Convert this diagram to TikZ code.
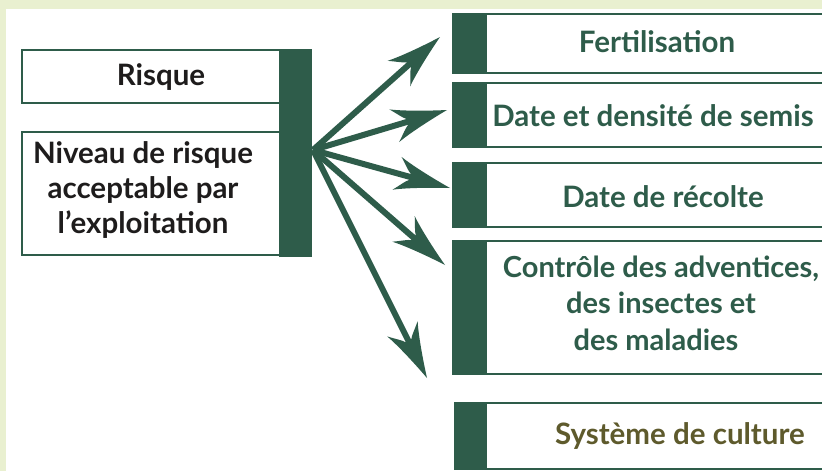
\documentclass[tikz,border=0pt]{standalone}
\usepackage{fontspec}
\setmainfont{Lato}
\usetikzlibrary{arrows.meta}
\definecolor{leaf}{HTML}{2E5C4A}
\definecolor{frame}{HTML}{E9F0D0}
\definecolor{ink}{HTML}{1E1C1C}
\definecolor{olive}{HTML}{5E5A2C}

% swept-back barbed arrow head
\pgfdeclarearrow{
  name = Barb,
  parameters = {\the\pgfarrowlength,\the\pgfarrowwidth},
  setup code = {
    \pgfarrowssettipend{0pt}
    \pgfarrowssetlineend{-.6\pgfarrowlength}
    \pgfarrowssetvisualbackend{-\pgfarrowlength}
    \pgfarrowssetbackend{-\pgfarrowlength}
    \pgfarrowshullpoint{0pt}{0pt}
    \pgfarrowshullpoint{-\pgfarrowlength}{.5\pgfarrowwidth}
    \pgfarrowshullpoint{-\pgfarrowlength}{-.5\pgfarrowwidth}
    \pgfarrowssavethe\pgfarrowlength
    \pgfarrowssavethe\pgfarrowwidth
  },
  drawing code = {
    \pgfpathmoveto{\pgfpoint{0pt}{0pt}}
    \pgfpathcurveto{\pgfpoint{-.4\pgfarrowlength}{.16\pgfarrowwidth}}
                   {\pgfpoint{-.8\pgfarrowlength}{.36\pgfarrowwidth}}
                   {\pgfpoint{-\pgfarrowlength}{.5\pgfarrowwidth}}
    \pgfpathcurveto{\pgfpoint{-.88\pgfarrowlength}{.3\pgfarrowwidth}}
                   {\pgfpoint{-.82\pgfarrowlength}{.16\pgfarrowwidth}}
                   {\pgfpoint{-.76\pgfarrowlength}{.1\pgfarrowwidth}}
    \pgfpathlineto{\pgfpoint{-.76\pgfarrowlength}{-.1\pgfarrowwidth}}
    \pgfpathcurveto{\pgfpoint{-.82\pgfarrowlength}{-.16\pgfarrowwidth}}
                   {\pgfpoint{-.88\pgfarrowlength}{-.3\pgfarrowwidth}}
                   {\pgfpoint{-\pgfarrowlength}{-.5\pgfarrowwidth}}
    \pgfpathcurveto{\pgfpoint{-.8\pgfarrowlength}{-.36\pgfarrowwidth}}
                   {\pgfpoint{-.4\pgfarrowlength}{-.16\pgfarrowwidth}}
                   {\pgfpoint{0pt}{0pt}}
    \pgfpathclose
    \pgfusepathqfill
  },
  defaults = {length=55pt, width=34pt}
}

\begin{document}
\begin{tikzpicture}[x=1pt,y=-1pt,
  box/.style={draw=leaf, line width=1.4pt, fill=white, anchor=north west,
    inner sep=0pt, outer sep=0pt},
  bar/.style={fill=leaf, anchor=north west, inner sep=0pt, outer sep=0pt},
  lbl/.style={font=\bfseries\fontsize{29.5}{35}\selectfont, align=center,
    text=leaf, anchor=base, inner sep=0pt},
  arr/.style={draw=leaf, line width=6pt, -{Barb[length=55pt,width=34pt]}}]
\useasboundingbox (0,0) rectangle (822,471);
\clip (0,0) rectangle (822,471);
% page frame
\fill[frame] (0,0) rectangle (822,471);
\fill[white] (6,9) rectangle (830,480);

% left side
\node[box, minimum width=258pt, minimum height=53pt] (risk) at (22,50) {};
\node[box, minimum width=258pt, minimum height=123pt] (level) at (22,132) {};
\node[bar, minimum width=33pt, minimum height=208pt] (hubbar) at (279,49) {};
\node[lbl, text=ink] (risktext) at (161,85) {Risque};
% base anchor of a multi-line node sits on its last line
\node[lbl, text=ink] (leveltext) at (143,233)
  {Niveau de risque\\acceptable par\\l’exploitation};

% right side
\node[box, minimum width=380pt, minimum height=59pt] (fert) at (453,14) {};
\node[bar, minimum width=34pt, minimum height=59pt] at (fert.north west) {};
\node[lbl] (ferttext) at (657,52) {Fertilisation};

\node[box, minimum width=380pt, minimum height=64pt] (sow) at (453,83) {};
\node[bar, minimum width=34pt, minimum height=64pt] at (sow.north west) {};
\node[lbl] (sowtext) at (653,126) {Date et densité de semis};

\node[box, minimum width=380pt, minimum height=64pt] (harv) at (453,163) {};
\node[bar, minimum width=34pt, minimum height=64pt] at (harv.north west) {};
\node[lbl] (harvtext) at (663,207) {Date de récolte};

\node[box, minimum width=380pt, minimum height=133pt] (pest) at (453,241) {};
\node[bar, minimum width=34pt, minimum height=133pt] at (pest.north west) {};
\node[lbl, font=\bfseries\fontsize{29}{36.5}\selectfont] (pesttext) at (661,350)
  {Contrôle des adventices,\\des insectes et\hspace*{16pt}\\des maladies\hspace*{10pt}};

\node[box, minimum width=380pt, minimum height=66pt] (crop) at (455,403) {};
\node[bar, minimum width=32pt, minimum height=66pt] at (crop.north west) {};
\node[lbl, text=olive] (croptext) at (680,444) {Système de culture};

% arrows fanning out of the bar
\coordinate (hub) at (313,150);
\coordinate (tip1) at (440,37);
\coordinate (tip2) at (447,110);
\coordinate (tip3) at (450,188);
\coordinate (tip4) at (445,265);
\coordinate (tip5) at (427,378);
\foreach \t in {tip1,tip2,tip3,tip4,tip5}
  \draw[arr] (hub) -- (\t);
\end{tikzpicture}
\end{document}
